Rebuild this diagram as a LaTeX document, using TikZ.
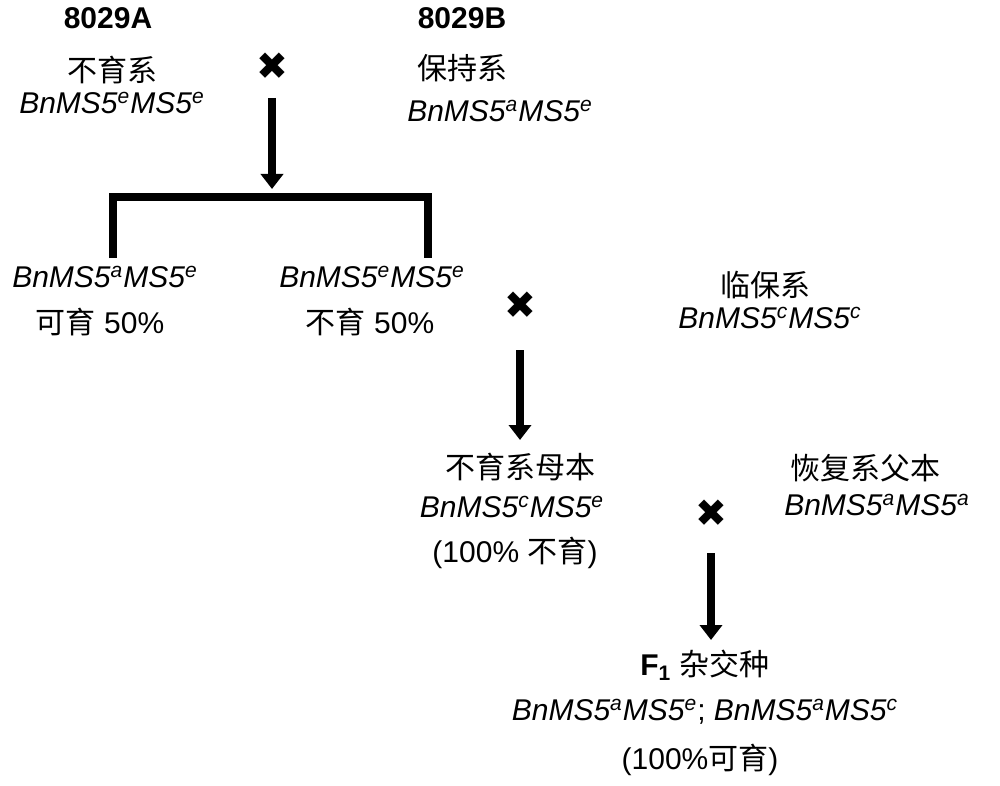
\documentclass[tikz,border=0pt]{standalone}
\usepackage{fontspec}
\setmainfont{Liberation Sans}
\newfontfamily\cjk{Noto Sans CJK SC}
\newfontfamily\symfont{DejaVu Sans}
\usepackage{tikz}
\usetikzlibrary{arrows.meta,positioning,calc}
\newcommand{\zh}[1]{{\cjk #1}}
\newcommand{\geno}[2]{\textit{BnMS5\textsuperscript{#1}MS5\textsuperscript{#2}}}
\begin{document}
\begin{tikzpicture}[
  x=0.5pt,y=-0.5pt,
  lbl/.style={inner sep=1pt,font=\fontsize{15}{18}\selectfont,text=black},
  ttl/.style={lbl,font=\fontsize{15}{18}\selectfont\bfseries},
  crs/.style={inner sep=0pt,font=\fontsize{19}{19}\selectfont\symfont},
  arr/.style={-{Triangle[width=11pt,length=7.5pt]},line width=4pt,draw=black},
  bar/.style={line width=4pt,draw=black,line join=miter}
]
\useasboundingbox (0,0) rectangle (1000,786);
% parents
\node[ttl] (nameA) at (108,18) {8029A};
\node[lbl] (typeA) at (112,70) {\zh{不育系}};
\node[lbl] (genA) at (112,103) {\geno{e}{e}};
\node[ttl] (nameB) at (462,18) {8029B};
\node[lbl] (typeB) at (462,68) {\zh{保持系}};
\node[lbl] (genB) at (500,111) {\geno{a}{e}};
\node[crs] (cross1) at (272,66) {✖};
% offspring of the first cross
\node[lbl] (genC) at (105,277) {\geno{a}{e}};
\node[lbl] (rateC) at (100,322) {\zh{可育} 50\%};
\node[lbl] (genD) at (372,277) {\geno{e}{e}};
\node[lbl] (rateD) at (370,322) {\zh{不育} 50\%};
\coordinate (split) at (272,197);
\coordinate (legC) at (113,258);
\coordinate (legD) at (428,258);
\draw[arr,shorten <=16pt,shorten >=4pt] (cross1.center) -- (split);
\draw[bar] (legC) |- (split) -| (legD);
% temporary maintainer
\node[crs] (cross2) at (520,305) {✖};
\node[lbl] (typeE) at (765,285) {\zh{临保系}};
\node[lbl] (genE) at (770,318) {\geno{c}{c}};
\node[lbl] (typeF) at (520,467) {\zh{不育系母本}};
\node[lbl] (genF) at (512,507) {\geno{c}{e}};
\node[lbl] (rateF) at (515,553) {(100\% \zh{不育})};
\draw[arr,shorten <=22.5pt,shorten >=13.5pt] (cross2.center) -- (cross2.center |- typeF.center);
% restorer and hybrid
\node[crs] (cross3) at (711,513) {✖};
\node[lbl] (typeG) at (865,468) {\zh{恢复系父本}};
\node[lbl] (genG) at (877,505) {\geno{a}{a}};
\node[lbl] (typeH) at (705,665) {\textbf{F\textsubscript{1}} \zh{杂交种}};
\node[lbl] (genH) at (705,712) {\geno{a}{e}; \geno{a}{c}};
\node[lbl] (rateH) at (700,760) {(100\%\zh{可育})};
\draw[arr,shorten <=20pt,shorten >=12.5pt] (cross3.center) -- (cross3.center |- typeH.center);
\end{tikzpicture}
\end{document}
